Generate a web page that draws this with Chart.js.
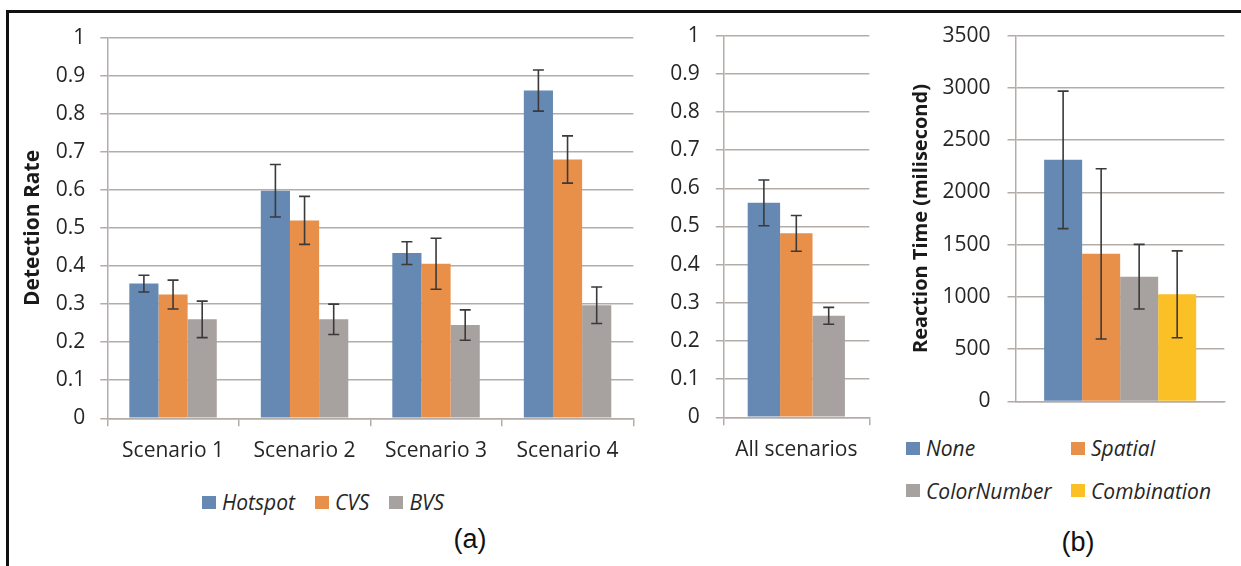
<!DOCTYPE html>
<html lang="en">
<head>
<meta charset="UTF-8" />
<title>Detection Rate and Reaction Time</title>
<script src="https://cdn.jsdelivr.net/npm/chart.js"></script>
<style>
  body { margin: 0; width: 1241px; height: 566px; background: #fff; position: relative; overflow: hidden; font-family: "Open Sans", sans-serif; color: #262626; }
  .frame { position: absolute; left: 6px; top: 10px; width: 1300px; height: 600px; border-left: 3px solid #111; border-top: 3px solid #111; }
  canvas { position: absolute; top: 0; }
  .legend { position: absolute; font-style: italic; font-size: 21px; }
  .legend .item { display: flex; align-items: center; height: 30px; }
  .legend .sw { width: 14px; height: 13px; margin-right: 6px; }
  .caption { position: absolute; font-family: "Liberation Sans", Arial, sans-serif; font-size: 27px; color: #111; transform: translate(-50%, -50%); }
</style>
</head>
<body>
<div class="frame"></div>

<canvas id="scenarioChart" width="645" height="480" style="left:0px"></canvas>
<canvas id="allChart" width="230" height="480" style="left:645px"></canvas>
<canvas id="reactionChart" width="361" height="431" style="left:880px"></canvas>

<div class="legend" id="legendA" style="left:202px; top:487px; display:flex; gap:20px;"></div>
<div class="legend" id="legendB" style="left:906px; top:433px; display:grid; grid-template-columns:165px 165px; row-gap:12.7px;"></div>

<div class="caption" style="left:470px; top:539px;">(a)</div>
<div class="caption" style="left:1078px; top:542px;">(b)</div>

<script>
// detection rate per scenario
const scenarios = ['Scenario 1', 'Scenario 2', 'Scenario 3', 'Scenario 4'];
const hotspot = [0.354, 0.598, 0.434, 0.861];
const hotspotErr = [0.022, 0.069, 0.030, 0.054];
const cvs = [0.325, 0.520, 0.406, 0.680];
const cvsErr = [0.038, 0.063, 0.067, 0.062];
const bvs = [0.260, 0.260, 0.245, 0.297];
const bvsErr = [0.048, 0.040, 0.040, 0.048];

// detection rate, all scenarios pooled
const allLabel = ['All scenarios'];
const allRate = [0.562, 0.482, 0.266];
const allErr = [0.060, 0.047, 0.022];

// reaction time
const cueNames = ['None', 'Spatial', 'ColorNumber', 'Combination'];
const reactionTime = [2312, 1412, 1194, 1025];
const reactionErr = [658, 815, 309, 416];

const methodNames = ['Hotspot', 'CVS', 'BVS'];
const colors = ['#6589b3', '#e88f4a', '#a7a19f', '#fcc027'];
const gridColor = '#b3adaa';
const tickFont = { family: 'Open Sans', size: 21 };

// error bars drawn on top of bars
const errorBars = {
  id: 'errorBars',
  afterDatasetsDraw(chart) {
    const ctx = chart.ctx, y = chart.scales.y;
    ctx.save();
    ctx.strokeStyle = '#3a3a3a';
    ctx.lineWidth = 1.6;
    chart.data.datasets.forEach((ds, i) => {
      chart.getDatasetMeta(i).data.forEach((bar, j) => {
        const top = y.getPixelForValue(ds.data[j] + ds.errors[j]);
        const bot = y.getPixelForValue(ds.data[j] - ds.errors[j]);
        ctx.beginPath();
        ctx.moveTo(bar.x, top); ctx.lineTo(bar.x, bot);
        ctx.moveTo(bar.x - 5.5, top); ctx.lineTo(bar.x + 5.5, top);
        ctx.moveTo(bar.x - 5.5, bot); ctx.lineTo(bar.x + 5.5, bot);
        ctx.stroke();
      });
    });
    ctx.restore();
  }
};

function makeChart(id, labels, datasets, o) {
  return new Chart(document.getElementById(id), {
    type: 'bar',
    data: { labels: labels, datasets: datasets },
    plugins: [errorBars],
    options: {
      responsive: false,
      animation: false,
      events: [],
      layout: { autoPadding: false, padding: { top: o.top, right: o.right, left: 0, bottom: 0 } },
      plugins: { legend: { display: false }, tooltip: { enabled: false } },
      datasets: { bar: { categoryPercentage: o.catPct, barPercentage: 1 } },
      scales: {
        x: {
          afterFit: s => { s.height = o.xHeight; },
          grid: { offset: true, drawOnChartArea: false, drawTicks: o.xTicks, tickLength: 8, color: gridColor, lineWidth: 1.5 },
          border: { color: gridColor, width: 1.5 },
          ticks: { font: tickFont, color: '#262626', padding: o.xPad }
        },
        y: {
          min: 0, max: o.max,
          afterFit: s => { s.width = o.yWidth; },
          grid: { color: gridColor, lineWidth: 1.5, tickLength: o.tickLen },
          border: { color: gridColor, width: 1.5 },
          ticks: { stepSize: o.step, font: tickFont, color: '#262626', padding: o.yPad, callback: v => String(Math.round(v * 10) / 10) },
          title: o.title ? { display: true, text: o.title, font: { family: 'Open Sans', size: o.titleSize, weight: 'bold' }, color: '#1a1a1a', padding: { top: o.titlePad, bottom: 0 } } : { display: false }
        }
      }
    }
  });
}

makeChart('scenarioChart', scenarios, [
  { label: methodNames[0], data: hotspot, errors: hotspotErr, backgroundColor: colors[0] },
  { label: methodNames[1], data: cvs, errors: cvsErr, backgroundColor: colors[1] },
  { label: methodNames[2], data: bvs, errors: bvsErr, backgroundColor: colors[2] }
], { top: 37.7, right: 11.7, xHeight: 61.7, yWidth: 107.3, catPct: 0.665, max: 1, step: 0.1,
     tickLen: 7, yPad: 15, xPad: 12, xTicks: true, title: 'Detection Rate', titleSize: 21, titlePad: 20.7 });

makeChart('allChart', allLabel, methodNames.map((m, i) => (
  { label: m, data: [allRate[i]], errors: [allErr[i]], backgroundColor: colors[i] }
)), { top: 35.7, right: 5.7, xHeight: 62.7, yWidth: 78.3, catPct: 0.666, max: 1, step: 0.1,
     tickLen: 7.5, yPad: 16, xPad: 12, xTicks: true });

// single unlabeled category, one bar per cue type
makeChart('reactionChart', [''], cueNames.map((c, i) => (
  { label: c, data: [reactionTime[i]], errors: [reactionErr[i]], backgroundColor: colors[i] }
)), { top: 35.7, right: 16.7, xHeight: 20, yWidth: 136, catPct: 0.73, max: 3500, step: 500,
     tickLen: 8.5, yPad: 17, xPad: 0, xTicks: false, title: 'Reaction Time (milisecond)', titleSize: 20, titlePad: 29.7 });

// html legends
function fillLegend(id, names) {
  const box = document.getElementById(id);
  names.forEach((n, i) => {
    const item = document.createElement('div');
    item.className = 'item';
    item.innerHTML = '<span class="sw" style="background:' + colors[i] + '"></span><span>' + n + '</span>';
    box.appendChild(item);
  });
}
fillLegend('legendA', methodNames);
fillLegend('legendB', cueNames);
</script>
</body>
</html>
